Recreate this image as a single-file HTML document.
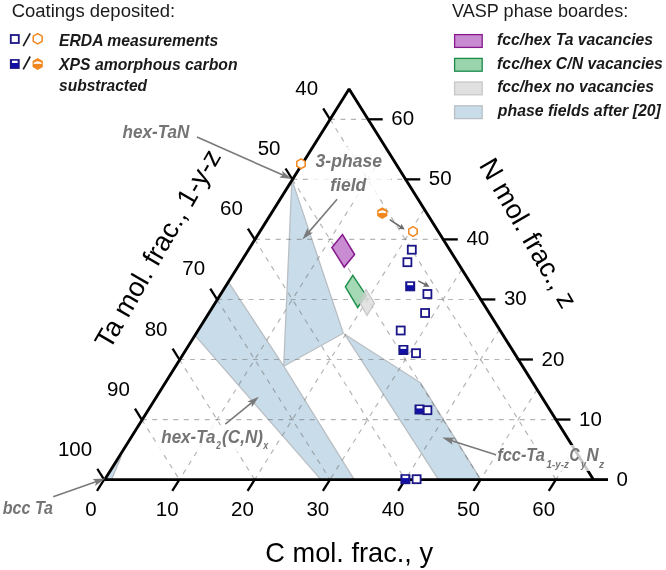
<!DOCTYPE html>
<html><head><meta charset="utf-8"><title>Ternary diagram</title>
<style>html,body{margin:0;padding:0;background:#fff;}body{width:666px;height:570px;overflow:hidden;}svg{display:block;}</style>
</head><body>
<svg width="666" height="570" viewBox="0 0 666 570">
<g fill="#c9dce9" stroke="#b9bfc4" stroke-width="1.3" stroke-linejoin="round">
<polygon points="104.8,479.6 121.2,456.8 111.8,479"/>
<polygon points="228,281.35 283.7,366.2 354.2,479.6 320.95,479.6 194.5,334.86"/>
<polygon points="291.9,179.6 343.3,333.3 283.7,366.3"/>
<polygon points="344.6,334.2 420.5,382.8 480.7,479.6 438.5,479.6"/>
</g>
<g stroke="#6a6a6a" stroke-opacity="0.5" stroke-width="1.15" stroke-dasharray="5 5.5" fill="none">
<line x1="386.48" y1="149.33" x2="179.4" y2="479.6"/>
<line x1="424.12" y1="209.38" x2="254.7" y2="479.6"/>
<line x1="461.77" y1="269.43" x2="330" y2="479.6"/>
<line x1="499.42" y1="329.48" x2="405.3" y2="479.6"/>
<line x1="537.08" y1="389.53" x2="480.6" y2="479.6"/>
<line x1="574.73" y1="449.58" x2="555.9" y2="479.6"/>
<line x1="141.75" y1="419.55" x2="555.9" y2="419.55"/>
<line x1="179.4" y1="359.5" x2="518.25" y2="359.5"/>
<line x1="217.05" y1="299.45" x2="480.6" y2="299.45"/>
<line x1="254.7" y1="239.4" x2="442.95" y2="239.4"/>
<line x1="292.35" y1="179.35" x2="405.3" y2="179.35"/>
<line x1="330" y1="119.3" x2="367.65" y2="119.3"/>
<line x1="330" y1="119.3" x2="555.9" y2="479.6"/>
<line x1="292.35" y1="179.35" x2="480.6" y2="479.6"/>
<line x1="254.7" y1="239.4" x2="405.3" y2="479.6"/>
<line x1="217.05" y1="299.45" x2="330" y2="479.6"/>
<line x1="179.4" y1="359.5" x2="254.7" y2="479.6"/>
<line x1="141.75" y1="419.55" x2="179.4" y2="479.6"/>
</g>
<g fill="#fff" fill-opacity="0.8">
<rect x="311" y="147" width="80" height="51"/>
<rect x="158" y="425" width="113" height="27"/>
</g>
<polygon points="352.8,275.4 366,295.2 357.7,307.5 345.4,286.8" fill="#9dd5ae" fill-opacity="0.92" stroke="#22904f" stroke-width="1.5"/>
<polygon points="366,289.5 374.5,303.3 367,315.4 359.6,302.4" fill="#dcdcdc" fill-opacity="0.8" stroke="#c4c4c4" stroke-opacity="0.9" stroke-width="1.3"/>
<polygon points="342.5,234.6 354.6,254.5 344.2,267.1 331.9,247.5" fill="#c98bd2" stroke="#86198c" stroke-width="1.5"/>
<polygon points="104.8,479.6 593.4,479.6 349.1,88.9" fill="none" stroke="#000" stroke-width="2.85" stroke-linejoin="bevel"/>
<g stroke="#000" stroke-width="2.3" stroke-linecap="butt">
<line x1="104.1" y1="479.6" x2="96.98" y2="490.95"/>
<line x1="179.4" y1="479.6" x2="172.28" y2="490.95"/>
<line x1="254.7" y1="479.6" x2="247.58" y2="490.95"/>
<line x1="330" y1="479.6" x2="322.88" y2="490.95"/>
<line x1="405.3" y1="479.6" x2="398.18" y2="490.95"/>
<line x1="480.6" y1="479.6" x2="473.48" y2="490.95"/>
<line x1="555.9" y1="479.6" x2="548.78" y2="490.95"/>
<line x1="592.4" y1="479.6" x2="608" y2="479.6" stroke-width="2.85"/>
<line x1="554.85" y1="419.55" x2="570.45" y2="419.55"/>
<line x1="517.3" y1="359.5" x2="532.9" y2="359.5"/>
<line x1="479.75" y1="299.45" x2="495.35" y2="299.45"/>
<line x1="442.21" y1="239.4" x2="457.81" y2="239.4"/>
<line x1="404.66" y1="179.35" x2="420.26" y2="179.35"/>
<line x1="367.11" y1="119.3" x2="382.71" y2="119.3"/>
<line x1="330" y1="119.3" x2="323.2" y2="108.46"/>
<line x1="292.35" y1="179.35" x2="285.55" y2="168.51"/>
<line x1="254.7" y1="239.4" x2="247.9" y2="228.56"/>
<line x1="217.05" y1="299.45" x2="210.25" y2="288.61"/>
<line x1="179.4" y1="359.5" x2="172.6" y2="348.66"/>
<line x1="141.75" y1="419.55" x2="134.95" y2="408.71"/>
<line x1="104.1" y1="479.6" x2="97.3" y2="468.76"/>
</g>
<g font-family="&quot;Liberation Sans&quot;, sans-serif" font-size="20.5" fill="#000">
<text x="91" y="515.7" text-anchor="middle">0</text>
<text x="167.2" y="515.7" text-anchor="middle">10</text>
<text x="242.5" y="515.7" text-anchor="middle">20</text>
<text x="317.8" y="515.7" text-anchor="middle">30</text>
<text x="393.1" y="515.7" text-anchor="middle">40</text>
<text x="468.4" y="515.7" text-anchor="middle">50</text>
<text x="543.7" y="515.7" text-anchor="middle">60</text>
<text x="616.6" y="485.6">0</text>
<text x="579.05" y="425.55">10</text>
<text x="541.5" y="365.5">20</text>
<text x="503.95" y="305.45">30</text>
<text x="466.41" y="245.4">40</text>
<text x="428.86" y="185.35">50</text>
<text x="391.31" y="125.3">60</text>
<text x="318.1" y="95.3" text-anchor="end">40</text>
<text x="280.45" y="155.35" text-anchor="end">50</text>
<text x="242.8" y="215.4" text-anchor="end">60</text>
<text x="205.15" y="275.45" text-anchor="end">70</text>
<text x="167.5" y="335.5" text-anchor="end">80</text>
<text x="129.85" y="395.55" text-anchor="end">90</text>
<text x="92.2" y="455.6" text-anchor="end">100</text>
</g>
<g font-family="&quot;Liberation Sans&quot;, sans-serif" font-size="26.8" fill="#000">
<text x="265.3" y="561.6" font-size="27.2">C mol. frac., y</text>
<text transform="translate(109.7,350.5) rotate(-60)" font-size="27.3">Ta mol. frac., 1-y-z</text>
<text transform="translate(478.5,165) rotate(60)" font-size="27.2">N mol. frac., z</text>
</g>
<g>
<rect x="407.8" y="245.7" width="8" height="8" fill="#fff" stroke="#1a1688" stroke-width="1.8"/>
<rect x="403.4" y="258.2" width="8" height="8" fill="#fff" stroke="#1a1688" stroke-width="1.8"/>
<rect x="423.4" y="290" width="8" height="8" fill="#fff" stroke="#1a1688" stroke-width="1.8"/>
<rect x="421.1" y="309" width="8" height="8" fill="#fff" stroke="#1a1688" stroke-width="1.8"/>
<rect x="396.7" y="326.5" width="8" height="8" fill="#fff" stroke="#1a1688" stroke-width="1.8"/>
<rect x="412" y="349.2" width="8" height="8" fill="#fff" stroke="#1a1688" stroke-width="1.8"/>
<rect x="423.4" y="406.2" width="8" height="8" fill="#fff" stroke="#1a1688" stroke-width="1.8"/>
<rect x="412.6" y="475.2" width="8" height="8" fill="#fff" stroke="#1a1688" stroke-width="1.8"/>
<rect x="406" y="282.1" width="8.4" height="8.4" fill="#1010a6" stroke="#1a1688" stroke-width="1.6"/><rect x="407.3" y="282.9" width="5.8" height="2.3" fill="#fff"/>
<rect x="399.2" y="345.8" width="8.4" height="8.4" fill="#1010a6" stroke="#1a1688" stroke-width="1.6"/><rect x="400.5" y="346.6" width="5.8" height="2.3" fill="#fff"/>
<rect x="415.3" y="405.3" width="8.4" height="8.4" fill="#1010a6" stroke="#1a1688" stroke-width="1.6"/><rect x="416.6" y="406.1" width="5.8" height="2.3" fill="#fff"/>
<rect x="401.2" y="475" width="8.4" height="8.4" fill="#1010a6" stroke="#1a1688" stroke-width="1.6"/><rect x="402.5" y="475.8" width="5.8" height="2.3" fill="#fff"/>
<polygon points="413,226.65 417.2,229.07 417.2,233.93 413,236.35 408.8,233.93 408.8,229.07" fill="#fff" stroke="#f2871f" stroke-width="1.5"/>
<polygon points="301,158.95 305.2,161.38 305.2,166.23 301,168.65 296.8,166.23 296.8,161.38" fill="#fff" stroke="#f2871f" stroke-width="1.5"/>
<polygon points="382.3,207.2 387.41,210.15 387.41,216.05 382.3,219 377.19,216.05 377.19,210.15" fill="#f2871f"/><path d="M378.41,211.92 Q382.3,208.67 386.19,211.92 L386.19,213.22 Q382.3,212.51 378.41,213.22 Z" fill="#fff"/>
</g>
<line x1="389.8" y1="219.6" x2="401.21" y2="227.26" stroke="#6b6b6b" stroke-width="1.6"/><polygon points="404.7,229.6 398.05,228.75 400.71,226.93 401.39,223.77" fill="#6b6b6b"/>
<line x1="418.2" y1="280.9" x2="425.76" y2="284.78" stroke="#6b6b6b" stroke-width="1.6"/><polygon points="429.5,286.7 422.79,286.63 425.23,284.51 425.53,281.29" fill="#6b6b6b"/>
<line x1="197" y1="137" x2="284.02" y2="175.59" stroke="#7a7a7a" stroke-width="1.6"/><polygon points="291.7,179 279.27,177.43 282.92,175.11 282.19,170.84" fill="#7a7a7a"/>
<line x1="337.1" y1="199.2" x2="307.88" y2="233.13" stroke="#7a7a7a" stroke-width="1.6"/><polygon points="302.4,239.5 307.5,228.06 308.66,232.23 312.96,232.76" fill="#7a7a7a"/>
<line x1="225.3" y1="424.1" x2="252.38" y2="402.1" stroke="#7a7a7a" stroke-width="1.6"/><polygon points="258.9,396.8 251.86,407.16 251.45,402.85 247.32,401.57" fill="#7a7a7a"/>
<line x1="495.9" y1="454.7" x2="450.2" y2="440.15" stroke="#7a7a7a" stroke-width="1.6"/><polygon points="442.2,437.6 454.73,437.81 451.35,440.51 452.54,444.67" fill="#7a7a7a"/>
<line x1="53.2" y1="496.8" x2="97.28" y2="481.29" stroke="#7a7a7a" stroke-width="1.6"/><polygon points="105.2,478.5 95.08,485.88 96.14,481.69 92.69,479.09" fill="#7a7a7a"/>
<rect x="496" y="445" width="111" height="26" fill="#fff" fill-opacity="0.78"/>
<text x="122.46" y="137.7" font-family="&quot;Liberation Sans&quot;, sans-serif" font-size="18" font-weight="bold" font-style="italic" fill="#747474" textLength="66.87" lengthAdjust="spacingAndGlyphs">hex-TaN</text>
<text x="315.56" y="167.4" font-family="&quot;Liberation Sans&quot;, sans-serif" font-size="18" font-weight="bold" font-style="italic" fill="#747474" textLength="66.46" lengthAdjust="spacingAndGlyphs">3-phase</text>
<text x="330.27" y="191.3" font-family="&quot;Liberation Sans&quot;, sans-serif" font-size="18" font-weight="bold" font-style="italic" fill="#747474" textLength="36" lengthAdjust="spacingAndGlyphs">field</text>
<text x="161.26" y="442.6" font-family="&quot;Liberation Sans&quot;, sans-serif" font-size="18" font-weight="bold" font-style="italic" fill="#747474" textLength="54.21" lengthAdjust="spacingAndGlyphs">hex-Ta</text>
<text x="216.2" y="449.2" font-family="&quot;Liberation Sans&quot;, sans-serif" font-size="10.5" font-weight="bold" font-style="italic" fill="#747474" textLength="4.58" lengthAdjust="spacingAndGlyphs">2</text>
<text x="222.12" y="442.6" font-family="&quot;Liberation Sans&quot;, sans-serif" font-size="18" font-weight="bold" font-style="italic" fill="#747474" textLength="40.95" lengthAdjust="spacingAndGlyphs">(C,N)</text>
<text x="263.31" y="449.2" font-family="&quot;Liberation Sans&quot;, sans-serif" font-size="10.5" font-weight="bold" font-style="italic" fill="#747474" textLength="4.96" lengthAdjust="spacingAndGlyphs">x</text>
<text x="497.22" y="460.6" font-family="&quot;Liberation Sans&quot;, sans-serif" font-size="18" font-weight="bold" font-style="italic" fill="#747474" textLength="47.64" lengthAdjust="spacingAndGlyphs">fcc-Ta</text>
<text x="546.57" y="467.5" font-family="&quot;Liberation Sans&quot;, sans-serif" font-size="10.5" font-weight="bold" font-style="italic" fill="#747474" textLength="22.21" lengthAdjust="spacingAndGlyphs">1-y-z</text>
<text x="569.42" y="460.6" font-family="&quot;Liberation Sans&quot;, sans-serif" font-size="18" font-weight="bold" font-style="italic" fill="#747474" textLength="10.09" lengthAdjust="spacingAndGlyphs">C</text>
<text x="580.93" y="467.5" font-family="&quot;Liberation Sans&quot;, sans-serif" font-size="10.5" font-weight="bold" font-style="italic" fill="#747474" textLength="5.02" lengthAdjust="spacingAndGlyphs">y</text>
<text x="586.57" y="460.6" font-family="&quot;Liberation Sans&quot;, sans-serif" font-size="18" font-weight="bold" font-style="italic" fill="#747474" textLength="12.1" lengthAdjust="spacingAndGlyphs">N</text>
<text x="598.9" y="467.5" font-family="&quot;Liberation Sans&quot;, sans-serif" font-size="10.5" font-weight="bold" font-style="italic" fill="#747474" textLength="5.2" lengthAdjust="spacingAndGlyphs">z</text>
<text x="2.78" y="514.3" font-family="&quot;Liberation Sans&quot;, sans-serif" font-size="18" font-weight="bold" font-style="italic" fill="#747474" textLength="50.27" lengthAdjust="spacingAndGlyphs">bcc Ta</text>
<text x="11.63" y="17" font-family="&quot;Liberation Sans&quot;, sans-serif" font-size="19" fill="#1a1a1a" textLength="163.53" lengthAdjust="spacingAndGlyphs">Coatings deposited:</text>
<text x="452.06" y="16.8" font-family="&quot;Liberation Sans&quot;, sans-serif" font-size="19" fill="#1a1a1a" textLength="176.17" lengthAdjust="spacingAndGlyphs">VASP phase boardes:</text>
<rect x="10.8" y="35" width="8" height="8" fill="#fff" stroke="#1a1688" stroke-width="1.8"/>
<polygon points="37.7,33.65 42.16,36.22 42.16,41.38 37.7,43.95 33.24,41.38 33.24,36.22" fill="#fff" stroke="#f2871f" stroke-width="1.5"/>
<rect x="10.7" y="59.9" width="8.2" height="8.2" fill="#1010a6" stroke="#1a1688" stroke-width="1.6"/><rect x="12" y="60.7" width="5.6" height="2.3" fill="#fff"/>
<polygon points="37.7,58.1 42.81,61.05 42.81,66.95 37.7,69.9 32.59,66.95 32.59,61.05" fill="#f2871f"/><path d="M33.81,62.82 Q37.7,59.58 41.59,62.82 L41.59,64.12 Q37.7,63.41 33.81,64.12 Z" fill="#fff"/>
<g stroke="#1a1a1a" stroke-width="1.7"><line x1="23.2" y1="46.2" x2="30.2" y2="33.4"/><line x1="23.2" y1="69.3" x2="30.2" y2="56.5"/></g>
<text x="59.06" y="45.5" font-family="&quot;Liberation Sans&quot;, sans-serif" font-size="16.5" font-weight="bold" font-style="italic" fill="#1a1a1a" textLength="159.21" lengthAdjust="spacingAndGlyphs">ERDA measurements</text>
<text x="59.12" y="70" font-family="&quot;Liberation Sans&quot;, sans-serif" font-size="16.5" font-weight="bold" font-style="italic" fill="#1a1a1a" textLength="178.44" lengthAdjust="spacingAndGlyphs">XPS amorphous carbon</text>
<text x="59.06" y="91.4" font-family="&quot;Liberation Sans&quot;, sans-serif" font-size="16.5" font-weight="bold" font-style="italic" fill="#1a1a1a" textLength="88.03" lengthAdjust="spacingAndGlyphs">substracted</text>
<text x="497.12" y="45.3" font-family="&quot;Liberation Sans&quot;, sans-serif" font-size="16.5" font-weight="bold" font-style="italic" fill="#1a1a1a" textLength="155.93" lengthAdjust="spacingAndGlyphs">fcc/hex Ta vacancies</text>
<text x="497.12" y="68.9" font-family="&quot;Liberation Sans&quot;, sans-serif" font-size="16.5" font-weight="bold" font-style="italic" fill="#1a1a1a" textLength="165.76" lengthAdjust="spacingAndGlyphs">fcc/hex C/N vacancies</text>
<text x="497.13" y="92.4" font-family="&quot;Liberation Sans&quot;, sans-serif" font-size="16.5" font-weight="bold" font-style="italic" fill="#1a1a1a" textLength="156.74" lengthAdjust="spacingAndGlyphs">fcc/hex no vacancies</text>
<text x="497.84" y="115.8" font-family="&quot;Liberation Sans&quot;, sans-serif" font-size="16.5" font-weight="bold" font-style="italic" fill="#1a1a1a" textLength="163.01" lengthAdjust="spacingAndGlyphs">phase fields after [20]</text>
<rect x="454.6" y="34.6" width="27.6" height="12.8" fill="#c98bd2" stroke="#86198c" stroke-width="1.3"/>
<rect x="454.6" y="58.4" width="27.6" height="12.8" fill="#9ad4ad" stroke="#1d8a4c" stroke-width="1.3"/>
<rect x="454.6" y="82" width="27.6" height="12.8" fill="#e0e0e0" stroke="#c8c8c8" stroke-width="1.3"/>
<rect x="454.6" y="105.8" width="27.6" height="12.8" fill="#c9dce9" stroke="#b9bfc4" stroke-width="1.3"/>
</svg>
</body></html>
